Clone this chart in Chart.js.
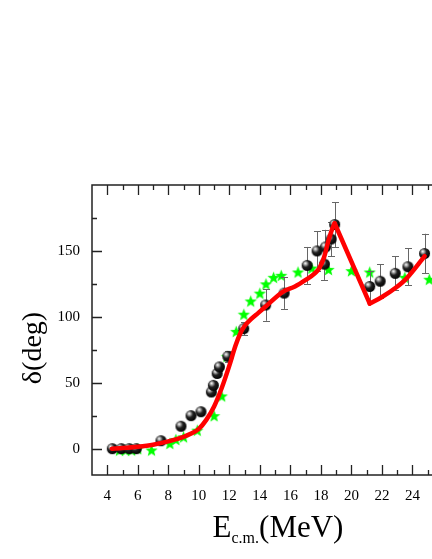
<!DOCTYPE html>
<html><head><meta charset="utf-8">
<script src="https://cdn.jsdelivr.net/npm/chart.js@4/dist/chart.umd.min.js"></script>
<style>html,body{margin:0;padding:0;background:#fff;overflow:hidden;width:432px;height:559px}canvas{display:block}</style>
</head><body><canvas id="c" width="460" height="559"></canvas>
<script>
// Experimental phase shifts (black spheres)
const expE   = [4.33,4.92,5.44,5.9,7.52,8.83,9.49,10.14,10.82,10.95,11.2,11.35,11.9,12.94,14.38,15.59,17.1,17.75,18.23,18.3,18.67,18.9,21.2,21.88,22.87,23.7,24.79];
const expD   = [0,0,0,0,6,17,25,28,43,48,57,62,70,91,109,118,139,150,140,153,159,170,123,127,133,138,148];
const expErr = [0,0,0,0,0,0,0,0,0,3,3,3,4,5,12,12,14,15,12,13,13,17,12,13,13,14,15];
// Other calculation (green stars)
const starE  = [4.8,5.2,5.6,6.0,6.9,8.1,8.5,9.0,9.9,11.0,11.5,11.85,12.45,12.95,13.4,14.0,14.4,14.9,15.4,16.5,17.4,18.5,20.0,21.2,23.5,25.1];
const starD  = [-1,-1,-1,0,-1,4,7,9,14,25,40,70,89,102,112,118,125,130,131.5,134,137,136,135,134,130,128.5];
// Fit (red line): rising branch, falling branch, second rise
const fitE1 = [4.3,5,6,7,8,9,9.5,10,10.5,11,11.5,12,12.4,12.7,13,13.4,13.9,14.4,15.5,16.3,17,17.6,17.9,18.2,18.5,18.75,18.9];
const fitD1 = [0,0.5,1.5,3,5.5,9,11.5,15,22,32,46,63,78,87,93,98,103,108,119,123,128,133,137,145,158,167,171];
const fitE2 = [18.9,21.2];
const fitD2 = [171,110];
const fitE3 = [21.2,22.0,22.9,23.6,24.8];
const fitD3 = [110,115,122,129,146];
const xTicks = [4,6,8,10,12,14,16,18,20,22,24];
const yTicks = [0,50,100,150];

const pts = (xs, ys) => xs.map((x, i) => ({x, y: ys[i]}));

function sphereImg(r){
  const c = document.createElement('canvas');
  const s = Math.ceil(2*r+2); c.width = s; c.height = s;
  const g = c.getContext('2d');
  const cx = s/2, cy = s/2;
  const gr = g.createRadialGradient(cx - r*0.35, cy - r*0.4, 0, cx - r*0.2, cy - r*0.2, r*1.25);
  gr.addColorStop(0, '#ffffff');
  gr.addColorStop(0.18, '#bbbbbb');
  gr.addColorStop(0.5, '#222222');
  gr.addColorStop(1, '#000000');
  g.fillStyle = gr;
  g.beginPath(); g.arc(cx, cy, r, 0, Math.PI*2); g.fill();
  return c;
}
function starImg(R){
  const c = document.createElement('canvas');
  const s = Math.ceil(2*R+2); c.width = s; c.height = s;
  const g = c.getContext('2d');
  const cx = s/2, cy = s/2 + R*0.1, ri = R*0.42;
  g.fillStyle = '#00ff00';
  g.beginPath();
  for (let i = 0; i < 10; i++){
    const rr = i % 2 ? ri : R;
    const a = -Math.PI/2 + i*Math.PI/5;
    const px = cx + rr*Math.cos(a), py = cy + rr*Math.sin(a);
    i ? g.lineTo(px, py) : g.moveTo(px, py);
  }
  g.closePath(); g.fill();
  return c;
}

const FONT = 'Liberation Serif';

const framePlugin = {
  id: 'frame',
  beforeDatasetsDraw(chart){
    const {ctx, chartArea: a, scales: {x, y}} = chart;
    ctx.save();
    ctx.strokeStyle = '#222'; ctx.lineWidth = 1.5;
    ctx.strokeRect(a.left, a.top, a.right - a.left, a.bottom - a.top);
    ctx.lineWidth = 1.3;
    ctx.beginPath();
    for (let v = Math.ceil(x.min); v <= x.max; v++){
      if (v === x.min || v === x.max) continue;
      const px = Math.round(x.getPixelForValue(v)) + 0.5;
      const L = v % 2 === 0 ? 10 : 5;
      ctx.moveTo(px, a.bottom); ctx.lineTo(px, a.bottom - L);
      ctx.moveTo(px, a.top); ctx.lineTo(px, a.top + L);
    }
    for (let v = 0; v < y.max; v += 25){
      const py = Math.round(y.getPixelForValue(v)) + 0.5;
      const L = v % 50 === 0 ? 10 : 5;
      ctx.moveTo(a.left, py); ctx.lineTo(a.left + L, py);
      ctx.moveTo(a.right, py); ctx.lineTo(a.right - L, py);
    }
    ctx.stroke();
    ctx.restore();
  }
};

const errPlugin = {
  id: 'errbars',
  beforeDatasetDraw(chart, args){
    if (args.index !== 1) return;
    const {ctx, scales: {x, y}} = chart;
    ctx.save();
    ctx.strokeStyle = '#666'; ctx.lineWidth = 1;
    ctx.beginPath();
    expE.forEach((e, i) => {
      const err = expErr[i]; if (!err) return;
      const px = Math.round(x.getPixelForValue(e)) + 0.5;
      const y1 = y.getPixelForValue(expD[i] + err), y2 = y.getPixelForValue(expD[i] - err);
      ctx.moveTo(px, y1); ctx.lineTo(px, y2);
      ctx.moveTo(px - 3.5, Math.round(y1) + 0.5); ctx.lineTo(px + 3.5, Math.round(y1) + 0.5);
      ctx.moveTo(px - 3.5, Math.round(y2) + 0.5); ctx.lineTo(px + 3.5, Math.round(y2) + 0.5);
    });
    ctx.stroke();
    ctx.restore();
  }
};

const titlePlugin = {
  id: 'titles',
  afterDraw(chart){
    const ctx = chart.ctx;
    ctx.save();
    ctx.fillStyle = '#000';
    ctx.translate(34, 348);
    ctx.rotate(-Math.PI/2);
    ctx.font = '28px "' + FONT + '"';
    ctx.textAlign = 'center'; ctx.textBaseline = 'middle';
    ctx.fillText('δ(deg)', 0, 0);
    ctx.setTransform(1,0,0,1,0,0);
    ctx.textAlign = 'left'; ctx.textBaseline = 'alphabetic';
    const big = '31px "' + FONT + '"', small = '16px "' + FONT + '"';
    ctx.font = big; const wE = ctx.measureText('E').width, wM = ctx.measureText('(MeV)').width;
    ctx.font = small; const wS = ctx.measureText('c.m.').width;
    let x0 = 278 - (wE + wS + wM)/2;
    const base = 537;
    ctx.font = big; ctx.fillText('E', x0, base); x0 += wE;
    ctx.font = small; ctx.fillText('c.m.', x0, base + 6); x0 += wS;
    ctx.font = big; ctx.fillText('(MeV)', x0, base);
    ctx.restore();
  }
};

const sphere = sphereImg(5.5);
const star = starImg(6.5);

new Chart(document.getElementById('c'), {
  type: 'scatter',
  data: {
    datasets: [
      {label: 'fit1', type: 'line', data: pts(fitE1, fitD1), borderColor: '#ff0000', borderWidth: 4.5, pointRadius: 0, cubicInterpolationMode: 'monotone', order: 0, borderCapStyle: 'round', borderJoinStyle: 'round'},
      {label: 'exp', data: pts(expE, expD), pointStyle: sphere, pointRadius: 6, order: 2},
      {label: 'stars', data: pts(starE, starD), pointStyle: star, pointRadius: 7, order: 3},
      {label: 'fit2', type: 'line', data: pts(fitE2, fitD2), borderColor: '#ff0000', borderWidth: 4.5, pointRadius: 0, tension: 0, order: 0, borderCapStyle: 'round'},
      {label: 'fit3', type: 'line', data: pts(fitE3, fitD3), borderColor: '#ff0000', borderWidth: 4.5, pointRadius: 0, cubicInterpolationMode: 'monotone', order: 0, borderCapStyle: 'round'}
    ]
  },
  options: {
    responsive: false, animation: false,
    layout: {padding: {left: 0, top: 185, right: 17, bottom: 0}},
    plugins: {legend: {display: false}, tooltip: {enabled: false}},
    scales: {
      x: {
        type: 'linear', min: 3, max: 26,
        grid: {display: false, drawTicks: false}, border: {display: false},
        afterBuildTicks: s => { s.ticks = xTicks.map(v => ({value: v})); },
        afterFit: s => { s.height = 84; },
        ticks: {font: {family: FONT, size: 15}, color: '#000', padding: 12, maxRotation: 0, autoSkip: false}
      },
      y: {
        type: 'linear', min: -20, max: 200,
        grid: {display: false, drawTicks: false}, border: {display: false},
        afterBuildTicks: s => { s.ticks = yTicks.map(v => ({value: v})); },
        afterFit: s => { s.width = 92; },
        ticks: {font: {family: FONT, size: 15}, color: '#000', padding: 12, autoSkip: false}
      }
    }
  },
  plugins: [framePlugin, errPlugin, titlePlugin]
});
</script>
</body></html>
